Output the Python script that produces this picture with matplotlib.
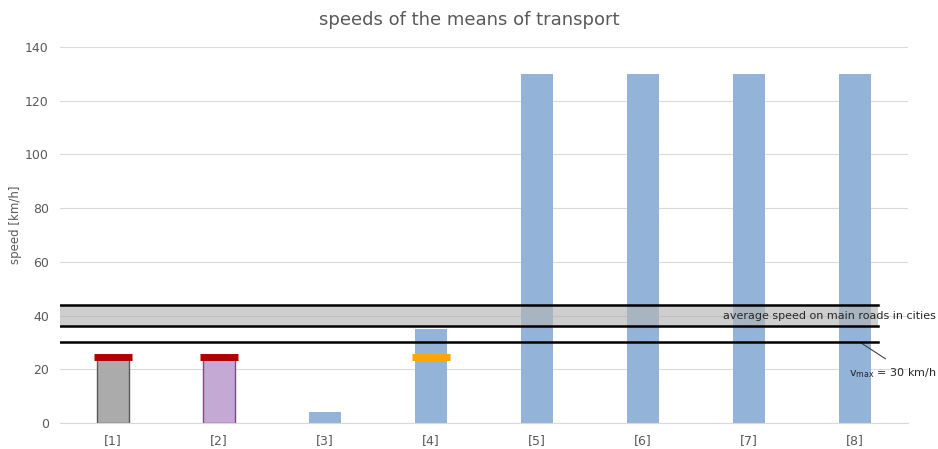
import matplotlib.pyplot as plt
import numpy as np

# transport modes and their speeds in km/h
labels = ["[1]", "[2]", "[3]", "[4]", "[5]", "[6]", "[7]", "[8]"]
speeds = [24, 24, 4, 35, 130, 130, 130, 130]
bar_colors = ["#ababab", "#c5a9d5", "#93b4d8", "#93b4d8",
              "#93b4d8", "#93b4d8", "#93b4d8", "#93b4d8"]
edge_colors = ["#595959", "#8040b0", "none", "none",
               "none", "none", "none", "none"]

# typical speed markers drawn over some bars
marker_idx = [0, 1, 3]
marker_vals = [24.6, 24.6, 24.6]
marker_colors = ["#b00000", "#b00000", "#ffa500"]

band_low, band_high = 36, 44
vmax = 30

plt.rcParams["font.family"] = ["DejaVu Sans"]

fig = plt.figure(figsize=(9.38, 4.49), dpi=100)
ax = fig.add_axes([60 / 938, 26 / 449, 848 / 938, 376 / 449])

x = np.arange(len(labels))
ax.bar(x, speeds, width=0.31, color=bar_colors, edgecolor=edge_colors,
       linewidth=1.0, zorder=2)

for i, v, c in zip(marker_idx, marker_vals, marker_colors):
    ax.plot([i - 0.175, i + 0.175], [v, v], color=c, lw=5,
            solid_capstyle="butt", zorder=4)

# city-road band and the speed limit line
x_end = 7.22
ax.fill_between([-0.5, x_end], band_low, band_high, color="#b4b4b4",
                alpha=0.65, zorder=3, lw=0)
for y in (band_low, band_high, vmax):
    ax.plot([-0.5, x_end], [y, y], color="black", lw=1.8, zorder=5)

ax.text(1.033, 40, "average speed on main roads in cities",
        transform=ax.get_yaxis_transform(), ha="right", va="center",
        fontsize=8, color="#262626", zorder=6, clip_on=False)
ax.annotate(r"v$_{\rm max}$ = 30 km/h", xy=(7.05, vmax),
            xytext=(1.033, 18.6), textcoords=ax.get_yaxis_transform(),
            ha="right", va="center", fontsize=8, color="#262626",
            arrowprops=dict(arrowstyle="-", color="#404040", lw=0.8,
                            shrinkA=6, shrinkB=0, relpos=(0.55, 1.0)),
            annotation_clip=False)

ax.set_xlim(-0.5, 7.5)
ax.set_ylim(0, 140)
ax.set_yticks(range(0, 141, 20))
ax.set_xticks(x)
ax.set_xticklabels(labels)
ax.tick_params(length=0, labelsize=9, colors="#595959", pad=8)
ax.grid(axis="y", color="#d9d9d9", lw=0.8, zorder=0)
ax.set_axisbelow(True)
for s in ("top", "right", "left"):
    ax.spines[s].set_visible(False)
ax.spines["bottom"].set_color("#d9d9d9")

fig.text(16 / 938, 0.5, "speed [km/h]", rotation=90, ha="center",
         va="center", fontsize=8.5, color="#595959")
fig.text(0.5, 0.955, "speeds of the means of transport", ha="center",
         va="center", fontsize=13, color="#595959")

fig.savefig("out.png", dpi=100)
